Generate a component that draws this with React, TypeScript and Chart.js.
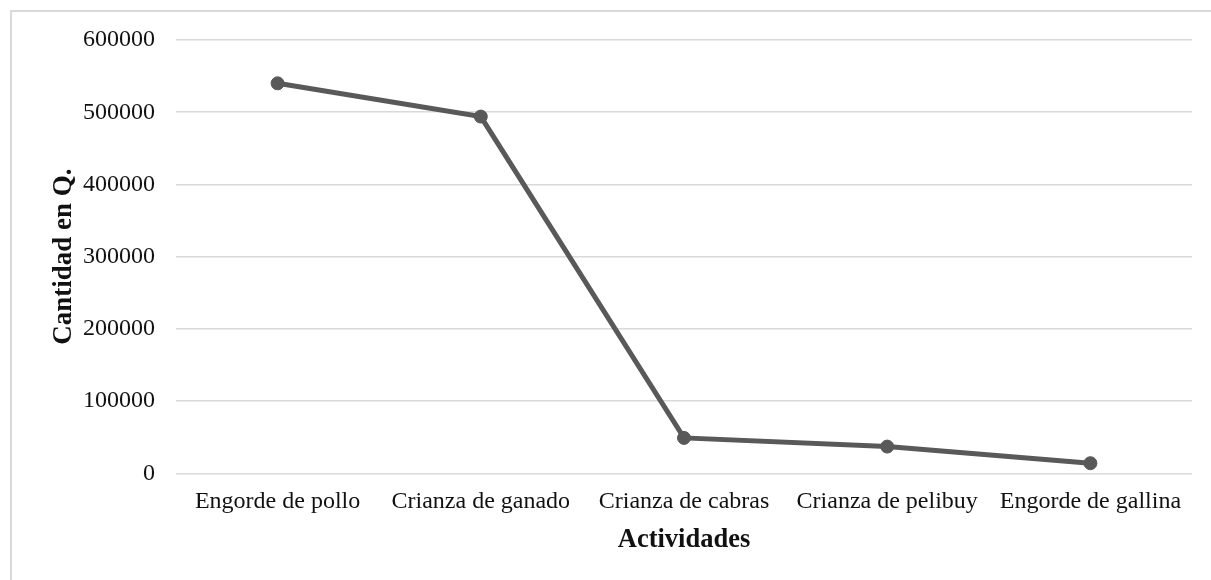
import React, { useEffect, useRef } from "react";
import { Chart, registerables } from "chart.js";

Chart.register(...registerables);

const categories = [
  "Engorde de pollo",
  "Crianza de ganado",
  "Crianza de cabras",
  "Crianza de pelibuy",
  "Engorde de gallina",
];
const values = [540000, 494000, 49000, 37000, 14000];
const yTicks = { min: 0, max: 600000, step: 100000 };
const xTitle = "Actividades";
const yTitle = "Cantidad en Q.";

const FONT = "'Liberation Serif', 'Times New Roman', serif";
const LINE = "#595959";
const GRID = "#d9d9d9";

export default function App() {
  const ref = useRef<HTMLCanvasElement | null>(null);

  useEffect(() => {
    document.body.style.margin = "0";
    const ctx = ref.current!.getContext("2d")!;
    const chart = new Chart(ctx, {
      type: "line",
      data: {
        labels: categories,
        datasets: [
          {
            data: values,
            borderColor: LINE,
            backgroundColor: LINE,
            borderWidth: 5,
            pointRadius: 6.5,
            pointBorderWidth: 1,
            pointBackgroundColor: LINE,
            pointBorderColor: LINE,
            tension: 0,
          },
        ],
      },
      options: {
        responsive: false,
        animation: false,
        layout: { padding: { top: 40, right: 19, bottom: 0, left: 0 } },
        plugins: { legend: { display: false }, tooltip: { enabled: false } },
        scales: {
          x: {
            type: "category",
            offset: true,
            grid: { display: false, drawTicks: false },
            border: { display: false },
            ticks: {
              color: "#111",
              padding: 14,
              maxRotation: 0,
              autoSkip: false,
              font: { family: FONT, size: 24 },
            },
            title: {
              display: true,
              text: xTitle,
              color: "#111",
              font: { family: FONT, size: 26.5, weight: "bold" },
              padding: { top: 0, bottom: 24 },
            },
            afterFit: (scale: any) => {
              scale.height = 106.7;
            },
          },
          y: {
            min: yTicks.min,
            max: yTicks.max,
            grid: { color: GRID, lineWidth: 1.5, drawTicks: false },
            border: { display: false },
            ticks: {
              stepSize: yTicks.step,
              color: "#111",
              padding: 21,
              font: { family: FONT, size: 24 },
              callback: (v: any) => String(v),
            },
            title: {
              display: true,
              text: yTitle,
              color: "#111",
              font: { family: FONT, size: 27, weight: "bold" },
              padding: { top: 48, bottom: 0 },
            },
            afterFit: (scale: any) => {
              scale.width = 176;
            },
          },
        },
      },
    });
    return () => chart.destroy();
  }, []);

  return (
    <div style={{ position: "absolute", left: 0, top: 0, width: 1211, height: 580, overflow: "hidden", background: "#fff" }}>
      <div
        style={{
          position: "absolute",
          left: 10,
          top: 10,
          width: 1300,
          height: 700,
          borderLeft: "2px solid #d9d9d9",
          borderTop: "2px solid #d9d9d9",
        }}
      />
      <canvas ref={ref} width={1211} height={580} style={{ position: "absolute", left: 0, top: 0 }} />
    </div>
  );
}
